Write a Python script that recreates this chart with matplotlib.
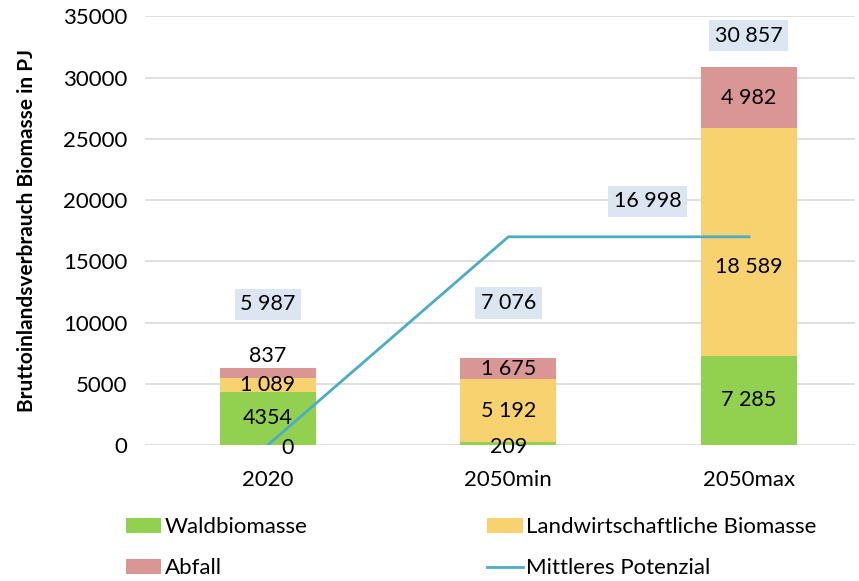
import matplotlib.pyplot as plt
import numpy as np

plt.rcParams['font.family'] = ['Lato', 'DejaVu Sans']

categories = ['2020', '2050min', '2050max']
wald = [4354, 209, 7285]
landw = [1089, 5192, 18589]
abfall = [837, 1675, 4982]
totals = [5987, 7076, 30857]
potenzial = [0, 16998, 16998]

wald_labels = ['4354', '209', '7 285']
landw_labels = ['1 089', '5 192', '18 589']
abfall_labels = ['837', '1 675', '4 982']
total_labels = ['5 987', '7 076', '30 857']

green = '#92D050'
yellow = '#F9D270'
red = '#DA9694'
blue = '#4BACC6'
boxcol = '#DCE6F2'

fig = plt.figure(figsize=(8.59, 5.81), dpi=100)
ax = fig.add_axes([0.169, 0.234, 0.826, 0.738])

x = np.arange(len(categories))
w = 0.4
b1 = ax.bar(x, wald, w, color=green, label='Waldbiomasse', zorder=2)
b2 = ax.bar(x, landw, w, bottom=wald, color=yellow, label='Landwirtschaftliche Biomasse', zorder=2)
bottom3 = np.array(wald) + np.array(landw)
b3 = ax.bar(x, abfall, w, bottom=bottom3, color=red, label='Abfall', zorder=2)
ln, = ax.plot(x, potenzial, color=blue, lw=2, label='Mittleres Potenzial', zorder=3)

fs = 15.5
# segment labels
for i in range(3):
    if i == 1:
        ax.text(x[i], -200, wald_labels[i], ha='center', va='center', fontsize=fs, zorder=4)
    else:
        ax.text(x[i], wald[i] / 2, wald_labels[i], ha='center', va='center', fontsize=fs, zorder=4)
    ly = wald[i] + landw[i] / 2
    if i == 2:
        ly = 14500
    ax.text(x[i], ly, landw_labels[i], ha='center', va='center', fontsize=fs, zorder=4)
    if i == 0:
        ax.text(x[i], bottom3[i] + abfall[i] + 1000, abfall_labels[i], ha='center', va='center', fontsize=fs, zorder=4)
    else:
        ax.text(x[i], bottom3[i] + abfall[i] / 2, abfall_labels[i], ha='center', va='center', fontsize=fs, zorder=4)

# total labels
total_y = [11500, 11600, 33400]
for i in range(3):
    ax.text(x[i], total_y[i], total_labels[i], ha='center', va='center', fontsize=fs, zorder=4,
            bbox=dict(facecolor=boxcol, edgecolor='none', pad=4))

# line labels
ax.text(x[0] + 0.08, -250, '0', ha='center', va='center', fontsize=fs, zorder=4)
ax.text(1.58, 19900, '16 998', ha='center', va='center', fontsize=fs, zorder=4,
        bbox=dict(facecolor=boxcol, edgecolor='none', pad=4))

ax.set_ylim(0, 35000)
ax.set_xlim(-0.51, 2.44)
ax.set_yticks(np.arange(0, 35001, 5000))
ax.set_xticks(x)
ax.set_xticklabels(categories)
ax.tick_params(axis='both', labelsize=16, length=0, colors='#000000')
ax.tick_params(axis='x', pad=18)
ax.tick_params(axis='y', pad=13)
ax.grid(axis='y', color='#D9D9D9', lw=1.2, zorder=0)
for s in ax.spines.values():
    s.set_visible(False)
ax.set_ylabel('Bruttoinlandsverbrauch Biomasse in PJ', fontsize=15, fontweight='bold')
ax.yaxis.set_label_coords(-0.153, 0.5)

fig.legend(handles=[b1, b3, b2, ln], labels=['Waldbiomasse', 'Abfall', 'Landwirtschaftliche Biomasse', 'Mittleres Potenzial'],
           ncol=2, loc='upper left', bbox_to_anchor=(0.136, 0.125), frameon=False, fontsize=16,
           handlelength=1.6, handletextpad=0.15, columnspacing=8.1, labelspacing=0.95, borderaxespad=0)

fig.savefig('out.png', dpi=100)
